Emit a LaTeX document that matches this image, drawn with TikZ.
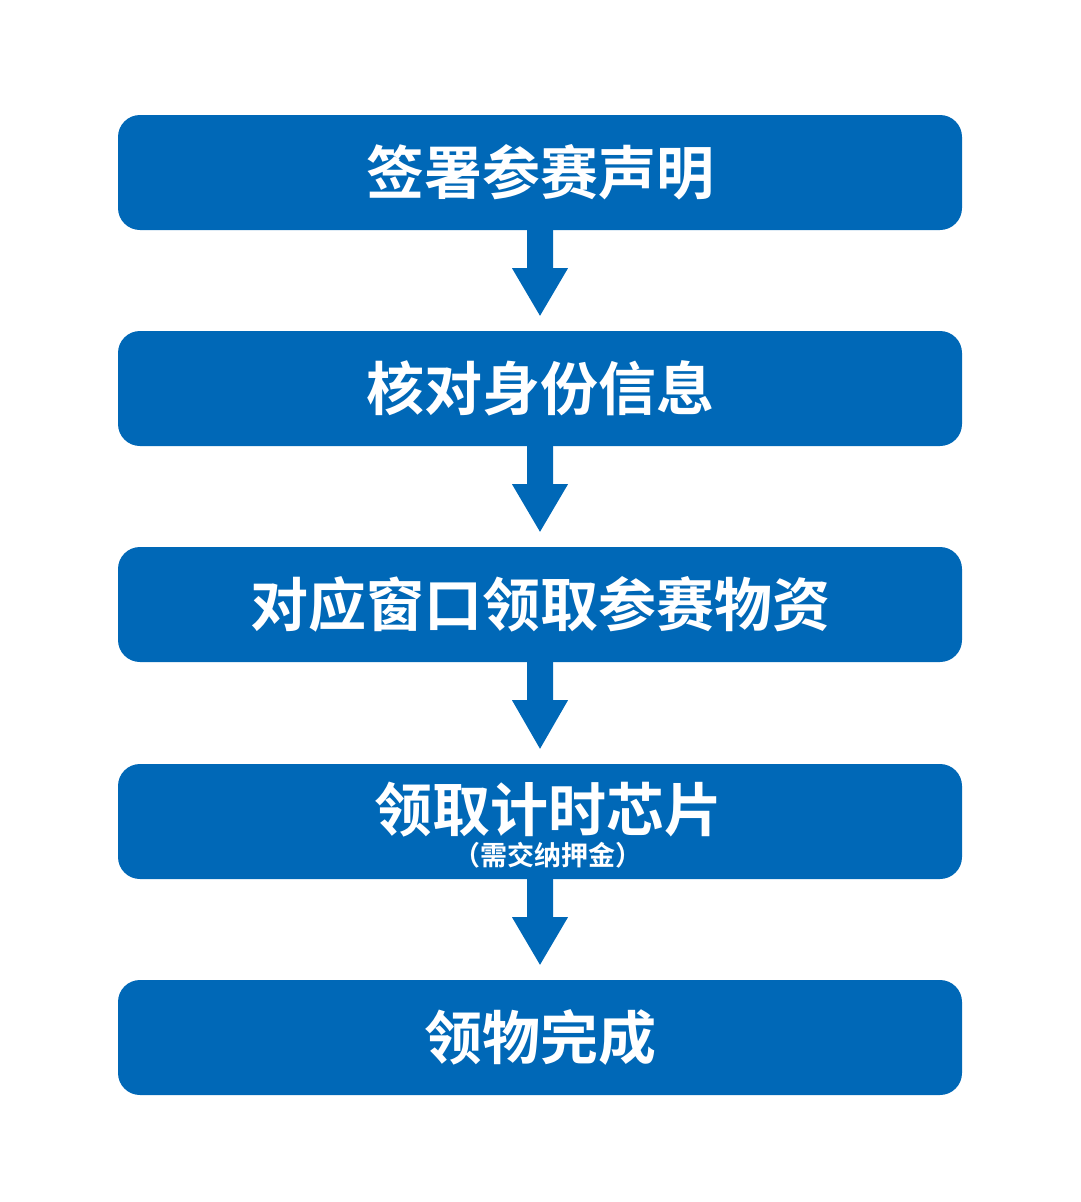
\documentclass[tikz,border=0pt]{standalone}
\usepackage{fontspec}
\usetikzlibrary{calc}
\newfontfamily\cjk{Noto Sans CJK SC Bold}
\definecolor{bl}{HTML}{0068B7}
\begin{document}
\begin{tikzpicture}[x=1pt,y=-1pt,
  stepbox/.style={fill=bl,rounded corners=22pt,minimum width=844pt,minimum height=115pt,inner sep=0pt,text=white,font=\cjk\fontsize{58}{60}\selectfont}]
\useasboundingbox (0,0) rectangle (1080,1202);
\node[stepbox] (a) at (540,172.5) {签署参赛声明};
\node[stepbox] (b) at (540,388.5) {核对身份信息};
\node[stepbox] (c) at (540,604.5) {对应窗口领取参赛物资};
\node[stepbox] (d) at (540,821.5) {};
\node[stepbox] (e) at (540,1037.5) {领物完成};
\node[text=white,font=\cjk\fontsize{58}{60}\selectfont] (d1) at (548,810) {领取计时芯片};
\node[text=white,font=\cjk\fontsize{27}{29}\selectfont] (d2) at (548,855) {（需交纳押金）};
\foreach \u/\v in {a/b,b/c,c/d,d/e}{
  \fill[bl] ($(\u.south)+(-13,0)$) -- ++(0,38) -- ++(-15,0) -- ($(\v.north)+(0,-15)$) -- ($(\u.south)+(28,38)$) -- ++(-15,0) -- ($(\u.south)+(13,0)$) -- cycle;
}
\end{tikzpicture}
\end{document}
